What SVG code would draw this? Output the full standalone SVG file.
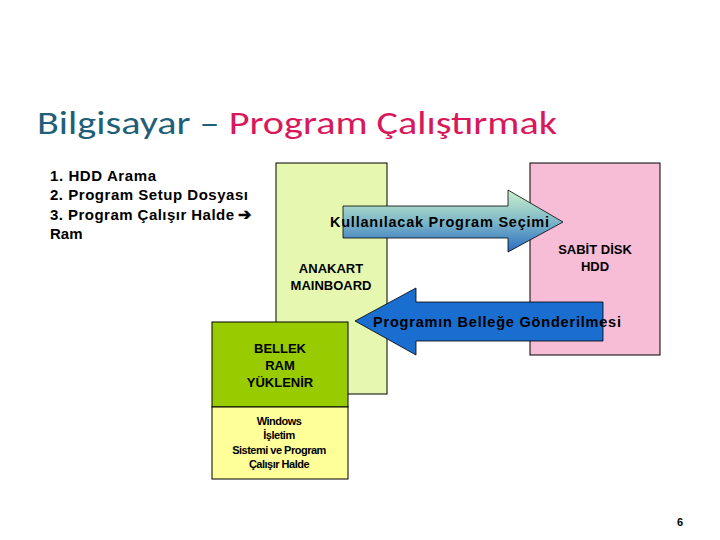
<svg xmlns="http://www.w3.org/2000/svg" width="720" height="540" viewBox="0 0 720 540">
<style>
text{font-family:"Liberation Sans",Arial,sans-serif}
.b{font-weight:bold;text-anchor:middle;fill:#000}
.box{stroke:#000;stroke-width:1}
.list{font-size:15px;fill:#000;font-weight:bold}
</style>
<defs>
<linearGradient id="g1" x1="0" y1="0" x2="0" y2="1">
<stop offset="0" stop-color="#ccf2cc"/><stop offset="0.5" stop-color="#7fb8c8"/><stop offset="1" stop-color="#2a6cc0"/>
</linearGradient>
</defs>
<rect width="720" height="540" fill="#fff"/>
<text x="37" y="134" font-size="32" textLength="520" lengthAdjust="spacingAndGlyphs" style="font-family:Carlito,'Open Sans',sans-serif"><tspan fill="#1f5f78">Bilgisayar – </tspan><tspan fill="#d8185a">Program Çalıştırmak</tspan></text>
<g id="list" class="list">
<text x="50" y="181" textLength="106">1. HDD Arama</text>
<text x="50" y="200" textLength="198">2. Program Setup Dosyası</text>
<text x="50" y="220" textLength="184">3. Program Çalışır Halde</text>
<text x="238" y="220" font-size="16">➔</text>
<text x="50" y="239">Ram</text>
</g>
<g id="anakart"><rect class="box" x="276" y="163" width="111" height="231" fill="#e6f8b0"/>
<text class="b" x="331" y="273" font-size="13">ANAKART</text><text class="b" x="331" y="290" font-size="13">MAINBOARD</text></g>
<g id="hdd"><rect class="box" x="530" y="163" width="130" height="192" fill="#f7bcd6"/>
<text class="b" x="595" y="254" font-size="13">SABİT DİSK</text><text class="b" x="595" y="271" font-size="13">HDD</text></g>
<g id="bellek"><rect class="box" x="212" y="322" width="136" height="85" fill="#99cc00"/>
<text class="b" x="280" y="353" font-size="13">BELLEK</text><text class="b" x="280" y="370" font-size="13">RAM</text><text class="b" x="280" y="387" font-size="13">YÜKLENİR</text></g>
<g id="windows"><rect class="box" x="212" y="407" width="136" height="72" fill="#ffff99"/>
<g class="b" font-size="11" letter-spacing="-0.5"><text x="279" y="425">Windows</text><text x="279" y="439">İşletim</text><text x="279" y="454">Sistemi ve Program</text><text x="279" y="468">Çalışır Halde</text></g></g>
<g id="connectors">
<path d="M343,206 H508 V190 L563,222 L508,252 V238 H343 Z" fill="url(#g1)" stroke="#000" stroke-width="0.8"/>
<path d="M603,302 H416 V288 L355,321 L416,355 V341 H603 Z" fill="#1a6ed0" stroke="#000" stroke-width="0.8"/>
<text x="330" y="227" font-size="14.5" font-weight="bold" textLength="219">Kullanılacak Program Seçimi</text>
<text x="373" y="327" font-size="14.5" font-weight="bold" textLength="248">Programın Belleğe Gönderilmesi</text>
</g>
<text x="680" y="526" font-size="11" font-weight="bold" text-anchor="middle">6</text>
</svg>
